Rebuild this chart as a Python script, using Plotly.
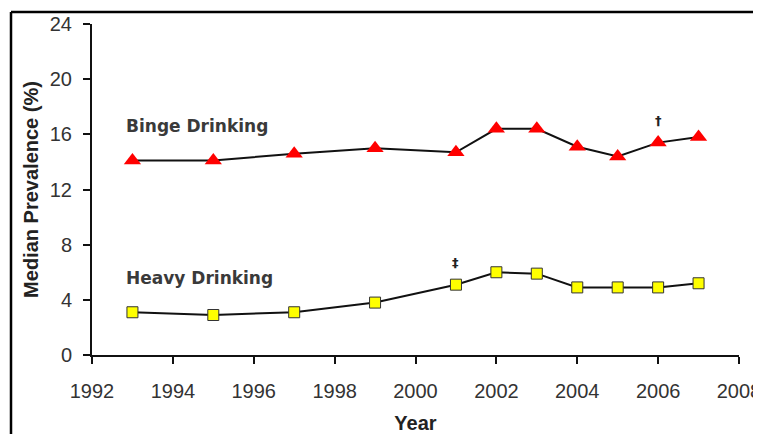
import plotly.graph_objects as go

years = [1993, 1995, 1997, 1999, 2001, 2002, 2003, 2004, 2005, 2006, 2007]
binge = [14.1, 14.1, 14.6, 15.0, 14.7, 16.4, 16.4, 15.1, 14.4, 15.4, 15.8]
heavy = [3.1, 2.9, 3.1, 3.8, 5.1, 6.0, 5.9, 4.9, 4.9, 4.9, 5.2]
x_ticks = [1992, 1994, 1996, 1998, 2000, 2002, 2004, 2006, 2008]
y_ticks = [0, 4, 8, 12, 16, 20, 24]

tick_font = dict(family="Liberation Sans, Arial, sans-serif", size=20, color="#333333")
title_font = dict(family="Liberation Sans, Arial, sans-serif", size=20, color="#222222")
label_font = dict(family="DejaVu Sans, Verdana, sans-serif", size=17, color="#3a3a3a")

# page body adds an 8px offset; figure is sized to fill the rest of the window
W, H = 753, 426
L, R, T, B = 84, 22, 16, 79
pw, ph = W - L - R, H - T - B

fig = go.Figure()
fig.add_trace(go.Scatter(
    x=years, y=binge, mode="lines+markers", name="Binge Drinking",
    line=dict(color="#111111", width=2),
    marker=dict(symbol="triangle-up", size=15, color="#ff0000", line=dict(width=0)),
))
fig.add_trace(go.Scatter(
    x=years, y=heavy, mode="lines+markers", name="Heavy Drinking",
    line=dict(color="#111111", width=2),
    marker=dict(symbol="square", size=11, color="#ffff00", line=dict(color="#333333", width=1)),
))

fig.update_layout(
    width=W, height=H,
    margin=dict(l=L, r=R, t=T, b=B, autoexpand=False),
    paper_bgcolor="white", plot_bgcolor="white",
    showlegend=False,
    xaxis=dict(
        range=[1992, 2008], tickvals=x_ticks, ticktext=[str(v) for v in x_ticks],
        ticks="outside", ticklen=7, tickwidth=2, tickcolor="#111111",
        showline=True, linecolor="#111111", linewidth=2, showgrid=False, zeroline=False,
        tickfont=tick_font, ticklabelstandoff=10, ticklabeloverflow="allow",
        automargin=False,
        title=dict(text="<b>Year</b>", font=title_font, standoff=20),
    ),
    yaxis=dict(
        range=[0, 24], tickvals=y_ticks, ticktext=[str(v) for v in y_ticks],
        ticks="outside", ticklen=7, tickwidth=2, tickcolor="#111111",
        showline=True, linecolor="#111111", linewidth=2, showgrid=False, zeroline=False,
        tickfont=tick_font, ticklabelstandoff=7, ticklabeloverflow="allow",
        automargin=False,
        title=dict(text="<b>Median Prevalence (%)</b>", font=title_font, standoff=6),
    ),
    annotations=[
        dict(x=1992.8, y=16.6, xref="x", yref="y", text="<b>Binge Drinking</b>",
             showarrow=False, xanchor="left", yanchor="middle", font=label_font),
        dict(x=1992.8, y=5.6, xref="x", yref="y", text="<b>Heavy Drinking</b>",
             showarrow=False, xanchor="left", yanchor="middle", font=label_font),
        dict(x=2006, y=17.0, xref="x", yref="y", text="<b>†</b>",
             showarrow=False, font=dict(family="DejaVu Sans", size=13, color="#222222")),
        dict(x=2001, y=6.7, xref="x", yref="y", text="<b>‡</b>",
             showarrow=False, font=dict(family="DejaVu Sans", size=13, color="#222222")),
    ],
    shapes=[
        dict(type="line", xref="paper", yref="paper",
             x0=-(L - 3) / pw, x1=1.2, y0=1 + (T - 4) / ph, y1=1 + (T - 4) / ph,
             line=dict(color="black", width=2.5)),
        dict(type="line", xref="paper", yref="paper",
             x0=-(L - 3) / pw, x1=-(L - 3) / pw, y0=1 + (T - 4) / ph, y1=-0.5,
             line=dict(color="black", width=2.5)),
    ],
)

fig.write_html("out.html")
